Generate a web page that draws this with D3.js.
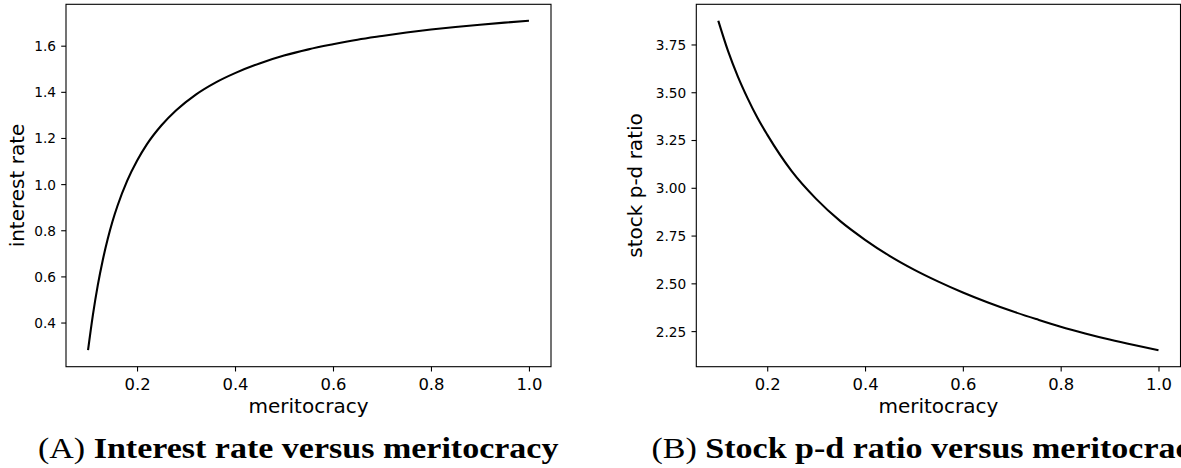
<!DOCTYPE html>
<html><head><meta charset="utf-8">
<script src="https://cdn.jsdelivr.net/npm/d3@7"></script>
<style>body{margin:0;background:#fff} svg{display:block;background:#fff}</style>
</head><body><svg id="c" width="1181" height="468"></svg>
<script>
// Panel A: interest rate vs meritocracy
const meritA = [0.10,0.11,0.12,0.13,0.14,0.15,0.16,0.18,0.20,0.22,0.25,0.28,0.32,0.36,0.40,0.45,0.50,0.55,0.60,0.65,0.70,0.75,0.80,0.85,0.90,0.95,1.00];
const interestRate = [0.280,0.434,0.563,0.670,0.761,0.839,0.905,1.015,1.101,1.172,1.255,1.320,1.388,1.440,1.481,1.523,1.557,1.584,1.606,1.626,1.642,1.657,1.670,1.681,1.691,1.700,1.708];
// Panel B: stock p-d ratio vs meritocracy
const meritB = [0.10,0.12,0.14,0.16,0.18,0.20,0.25,0.30,0.35,0.40,0.45,0.50,0.55,0.60,0.65,0.70,0.75,0.80,0.85,0.90,0.95,1.00];
const pdRatio = [3.874,3.715,3.582,3.468,3.366,3.278,3.087,2.942,2.824,2.728,2.644,2.572,2.509,2.452,2.401,2.355,2.313,2.273,2.238,2.206,2.177,2.150];
// Tick labels
const xTicks = [0.2,0.4,0.6,0.8,1.0];
const yTicksA = [0.4,0.6,0.8,1.0,1.2,1.4,1.6];
const yTicksB = [2.25,2.50,2.75,3.00,3.25,3.50,3.75];
// Texts
const xLabel = "meritocracy";
const yLabelA = "interest rate";
const yLabelB = "stock p-d ratio";
const captionA = ["(A) ", "Interest rate versus meritocracy"];
const captionB = ["(B) ", "Stock p-d ratio versus meritocracy"];

const svg = d3.select("#c");
const SANS = "'DejaVu Sans', sans-serif";
const SERIF = "'Liberation Serif', 'Times New Roman', serif";

function padded(ext) {
  const span = ext[1] - ext[0];
  return [ext[0] - 0.05 * span, ext[1] + 0.05 * span];
}

function panel(opt) {
  const g = svg.append("g");
  const x = d3.scaleLinear().domain(padded(d3.extent(opt.xs))).range([opt.x0, opt.x1]);
  const y = d3.scaleLinear().domain(padded(d3.extent(opt.ys))).range([opt.y1, opt.y0]);

  // x axis
  const xa = g.append("g").attr("transform", `translate(0,${opt.y1})`)
    .call(d3.axisBottom(x).tickValues(xTicks).tickFormat(d3.format(".1f")).tickSize(4.8).tickPadding(7));
  xa.select(".domain").remove();
  xa.selectAll("line").attr("stroke", "#000").attr("stroke-width", 1.1);
  xa.selectAll("text").attr("font-family", SANS).attr("font-size", 16.4).attr("fill", "#000");

  // y axis
  const ya = g.append("g").attr("transform", `translate(${opt.x0},0)`)
    .call(d3.axisLeft(y).tickValues(opt.yTicks).tickFormat(d3.format(opt.yFmt)).tickSize(4.8).tickPadding(5.2));
  ya.select(".domain").remove();
  ya.selectAll("line").attr("stroke", "#000").attr("stroke-width", 1.1);
  ya.selectAll("text").attr("font-family", SANS).attr("font-size", 13.7).attr("fill", "#000").attr("dy", "0.36em");

  // frame
  g.append("rect").attr("x", opt.x0).attr("y", opt.y0)
    .attr("width", opt.x1 - opt.x0).attr("height", opt.y1 - opt.y0)
    .attr("fill", "none").attr("stroke", "#000").attr("stroke-width", 1.1);

  // curve
  const line = d3.line().x((d, i) => x(opt.xs[i])).y(d => y(d)).curve(d3.curveMonotoneX);
  g.append("path").attr("d", line(opt.ys)).attr("fill", "none")
    .attr("stroke", "#000").attr("stroke-width", 2.1).attr("stroke-linecap", "butt");

  // axis labels
  g.append("text").attr("x", (opt.x0 + opt.x1) / 2).attr("y", 412.5)
    .attr("text-anchor", "middle").attr("font-family", SANS).attr("font-size", 20).attr("fill", "#000")
    .text(xLabel);
  g.append("text").attr("transform", `translate(${opt.ylabX},${(opt.y0 + opt.y1) / 2}) rotate(-90)`)
    .attr("text-anchor", "middle").attr("font-family", SANS).attr("font-size", 20).attr("fill", "#000")
    .text(opt.ylabel);

  // caption
  const cap = g.append("text").attr("transform", `translate(${opt.capX},458) scale(1.185,1)`)
    .attr("font-family", SERIF).attr("font-size", 28.7).attr("fill", "#000");
  cap.append("tspan").attr("font-weight", "normal").text(opt.caption[0]);
  cap.append("tspan").attr("font-weight", "bold").text(opt.caption[1]);
}

panel({xs: meritA, ys: interestRate, x0: 66, x1: 551, y0: 4.3, y1: 366.7,
  yTicks: yTicksA, yFmt: ".1f", ylabel: yLabelA, ylabX: 24, caption: captionA, capX: 38});
panel({xs: meritB, ys: pdRatio, x0: 696.3, x1: 1180.5, y0: 4.3, y1: 366.7,
  yTicks: yTicksB, yFmt: ".2f", ylabel: yLabelB, ylabX: 642, caption: captionB, capX: 651.5});
</script></body></html>
